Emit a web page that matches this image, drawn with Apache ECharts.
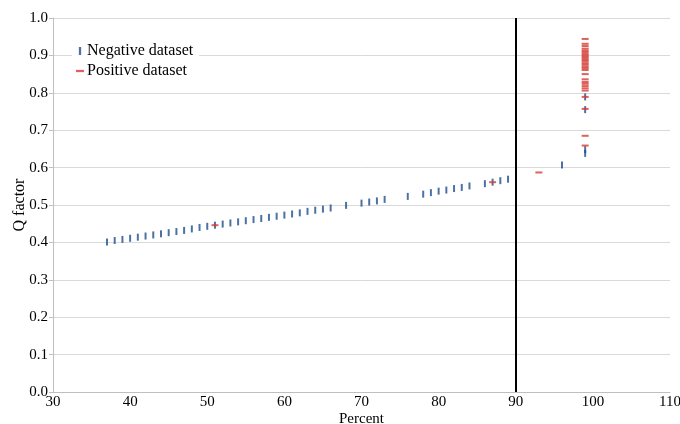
<!DOCTYPE html>
<html>
<head>
<meta charset="utf-8">
<script src="https://cdn.jsdelivr.net/npm/echarts@6/dist/echarts.min.js"></script>
<style>
  html, body { margin: 0; padding: 0; background: #fff; }
  #main { width: 680px; height: 424px; }
</style>
</head>
<body>
<div id="main"></div>
<script>
// negative dataset (percent, Q factor)
var negX = [37, 38, 39, 40, 41, 42, 43, 44, 45, 46, 47, 48, 49, 50, 51, 52, 53, 54, 55, 56,
            57, 58, 59, 60, 61, 62, 63, 64, 65, 66, 68, 70, 71, 72, 73, 76, 78, 79, 80, 81,
            82, 83, 84, 86, 87, 88, 89, 96, 99, 99, 99, 99];
var negY = [0.401, 0.405, 0.408, 0.411, 0.414, 0.417, 0.420, 0.423, 0.426, 0.429, 0.432, 0.436, 0.440, 0.443, 0.446, 0.449, 0.452, 0.455, 0.458, 0.461,
            0.464, 0.467, 0.470, 0.473, 0.476, 0.479, 0.483, 0.486, 0.489, 0.492, 0.499, 0.505, 0.508, 0.511, 0.515, 0.523, 0.529, 0.533, 0.537, 0.540,
            0.544, 0.547, 0.551, 0.557, 0.561, 0.565, 0.569, 0.607, 0.789, 0.755, 0.648, 0.638];

// positive dataset
var posX = [51, 87, 93, 99, 99, 99, 99, 99, 99, 99, 99, 99, 99, 99, 99, 99, 99, 99, 99,
            99, 99, 99, 99, 99, 99, 99, 99, 99, 99, 99, 99];
var posY = [0.446, 0.561, 0.587, 0.944, 0.931, 0.925, 0.918, 0.913, 0.909, 0.904, 0.900, 0.896, 0.892, 0.888, 0.884, 0.879, 0.875,
            0.870, 0.866, 0.861, 0.850, 0.836, 0.829, 0.824, 0.818, 0.812, 0.806, 0.789, 0.757, 0.685, 0.659, 0.650];

var cutoff = 90;

function pairs(xs, ys) {
  var out = [];
  for (var i = 0; i < xs.length; i++) out.push([xs[i], ys[i]]);
  return out;
}

var serif = '"Liberation Serif", "Times New Roman", serif';
var blue = '#1f4f8c';
var red = '#d63b33';

var option = {
  animation: false,
  grid: { left: 53, right: 10, top: 18, bottom: 32, outerBoundsMode: 'none', containLabel: false },
  legend: {
    orient: 'vertical',
    left: 72,
    top: 40,
    itemGap: 4,
    itemWidth: 8,
    itemHeight: 8,
    backgroundColor: '#fff',
    padding: [3, 6, 3, 4],
    textStyle: { fontFamily: serif, fontSize: 16, color: '#000', padding: [0, 0, 0, -2] },
    data: [
      { name: 'Negative dataset', icon: 'path://M0,0h2v7h-2z' },
      { name: 'Positive dataset', icon: 'path://M0,0h7v2h-7z' }
    ]
  },
  xAxis: {
    type: 'value',
    min: 30,
    max: 110,
    interval: 10,
    name: 'Percent',
    nameLocation: 'middle',
    nameGap: 20,
    nameMoveOverlap: false,
    nameTextStyle: { fontFamily: serif, fontSize: 15, color: '#000', verticalAlign: 'top' },
    axisLine: { lineStyle: { color: '#bfbfbf' } },
    axisTick: { show: false },
    axisLabel: { fontFamily: serif, fontSize: 15, color: '#000', margin: 3 },
    splitLine: { show: false }
  },
  yAxis: {
    type: 'value',
    min: 0,
    max: 1,
    interval: 0.1,
    name: 'Q factor',
    nameLocation: 'middle',
    nameGap: 25,
    nameMoveOverlap: false,
    nameTextStyle: { fontFamily: serif, fontSize: 16, color: '#000' },
    axisLine: { show: true, lineStyle: { color: '#bfbfbf' } },
    axisTick: { show: true, length: 4, lineStyle: { color: '#bfbfbf' } },
    axisLabel: {
      fontFamily: serif, fontSize: 15, color: '#000', margin: 5,
      formatter: function (v) { return v.toFixed(1); }
    },
    splitLine: { lineStyle: { color: '#d9d9d9' } }
  },
  series: [
    {
      name: 'Negative dataset',
      type: 'scatter',
      symbol: 'rect',
      symbolSize: [2, 7],
      itemStyle: { color: blue },
      data: pairs(negX, negY),
      markLine: {
        silent: true,
        symbol: 'none',
        label: { show: false },
        lineStyle: { color: '#000', width: 2, type: 'solid' },
        data: [{ xAxis: cutoff }]
      }
    },
    {
      name: 'Positive dataset',
      type: 'scatter',
      symbol: 'rect',
      symbolSize: [7, 2],
      itemStyle: { color: red },
      data: pairs(posX, posY)
    }
  ]
};

var myChart = echarts.init(document.getElementById('main'));
myChart.setOption(option);
</script>
</body>
</html>
